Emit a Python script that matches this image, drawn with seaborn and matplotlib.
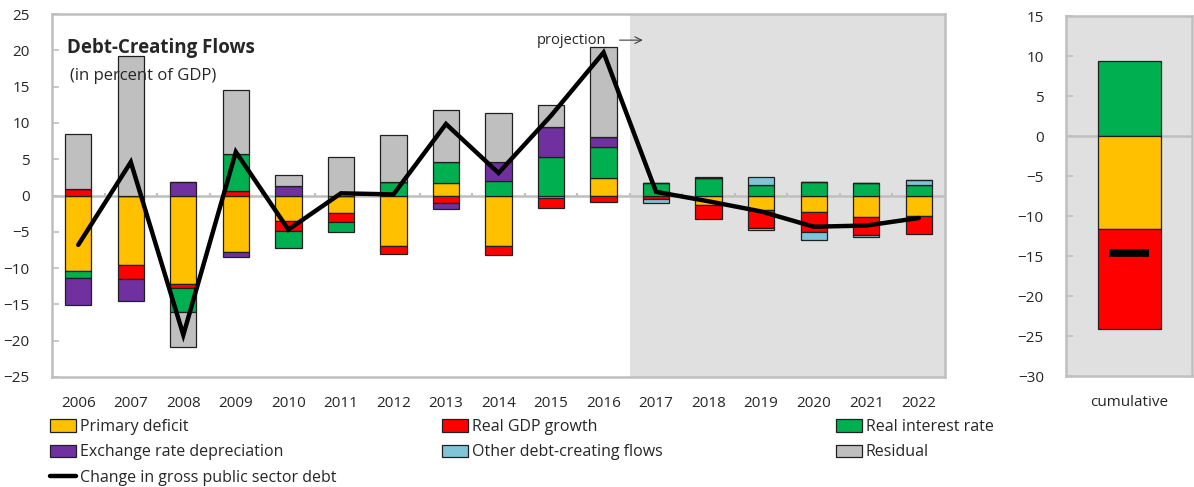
"""
Debt-creating flows, stacked bars + change in gross public sector debt
"""

import numpy as np
import pandas as pd
import matplotlib
matplotlib.use('Agg')
import matplotlib.pyplot as plt
import seaborn as sns
from matplotlib.patches import Patch
from matplotlib.lines import Line2D

sns.set_theme(style='white')
plt.rcParams['font.family'] = ['Open Sans', 'DejaVu Sans']

# data (percent of GDP)
years = ['2006', '2007', '2008', '2009', '2010', '2011', '2012', '2013', '2014',
         '2015', '2016', '2017', '2018', '2019', '2020', '2021', '2022']
primary_deficit = [-10.45, -9.6, -12.2, -7.8, -3.55, -2.4, -7.0, 1.66, -7.0,
                   -0.37, 2.44, -0.1, -1.33, -2.0, -2.25, -2.9, -2.76]
real_gdp_growth = [0.9, -1.9, -0.55, 0.6, -1.38, -1.3, -1.05, -1.0, -1.24,
                   -1.38, -0.87, -0.4, -1.87, -2.5, -2.75, -2.5, -2.49]
real_interest = [-0.95, 0.0, -3.35, 5.15, -2.27, -1.3, 1.85, 2.9, 1.98,
                 5.35, 4.26, 1.7, 2.4, 1.5, 1.9, 1.66, 1.48]
exchange_rate = [-3.75, -3.1, 1.8, -0.7, 1.33, 0.0, 0.0, -0.9, 2.67,
                 4.15, 1.3, 0.0, 0.0, 0.0, 0.0, 0.0, 0.0]
other_flows = [0.0, 0.0, 0.0, 0.0, 0.0, 0.0, 0.0, 0.0, 0.0,
               0.0, 0.0, -0.6, 0.0, 1.08, -1.1, -0.35, 0.59]
residual = [7.6, 19.15, -4.7, 8.85, 1.47, 5.35, 6.45, 7.18, 6.75,
            3.0, 12.5, 0.0, 0.1, -0.25, 0.0, 0.0, 0.0]
debt_change = [-6.8, 4.6, -19.2, 6.0, -4.7, 0.3, 0.15, 9.85, 3.1,
               11.0, 19.7, 0.5, -0.8, -2.2, -4.3, -4.14, -3.1]
first_projection = '2017'

cum_labels = ['Real interest rate', 'Primary deficit', 'Real GDP growth']
cum_values = [9.4, -11.6, -12.5]
cum_debt_change = -14.6

series = [
    ('Primary deficit', primary_deficit, '#FFC000'),
    ('Real GDP growth', real_gdp_growth, '#FF0000'),
    ('Real interest rate', real_interest, '#00B050'),
    ('Exchange rate depreciation', exchange_rate, '#7030A0'),
    ('Other debt-creating flows', other_flows, '#7FC4D9'),
    ('Residual', residual, '#BFBFBF'),
]
colors = {name: c for name, _, c in series}

frame_col = '#BFBFBF'
shade_col = '#E0E0E0'
fs = 11

fig = plt.figure(figsize=(11.94, 4.87), dpi=100)
ax = fig.add_axes([52 / 1194, 110 / 487, 893 / 1194, 363 / 487])
ax2 = fig.add_axes([1066 / 1194, 111 / 487, 126 / 1194, 360 / 487])

# ---- left panel: stacked bars
pos_base = np.zeros(len(years))
neg_base = np.zeros(len(years))
for name, vals, col in series:
    v = np.array(vals)
    bottom = np.where(v >= 0, pos_base, neg_base)
    df = pd.DataFrame({'year': years, 'value': v})
    sns.barplot(data=df, x='year', y='value', order=years, color=col,
                saturation=1, width=0.5, bottom=bottom, edgecolor='#202020',
                linewidth=0.9, ax=ax, zorder=3)
    pos_base = pos_base + np.where(v >= 0, v, 0)
    neg_base = neg_base + np.where(v < 0, v, 0)

xpos = np.arange(len(years))
sns.lineplot(x=xpos, y=debt_change, color='black', linewidth=3.2, ax=ax,
             zorder=5, solid_joinstyle='miter')

ax.set_xlim(-0.5, len(years) - 0.5)
ax.set_ylim(-25, 25)
ax.set_yticks(np.arange(-25, 26, 5))
ax.axvspan(years.index(first_projection) - 0.5, len(years) - 0.5,
           color=shade_col, zorder=0, lw=0)
ax.axhline(0, color=frame_col, lw=1.8, zorder=2)
# small category ticks on the zero line
ax.vlines(np.arange(0.5, len(years) - 1, 1), 0, 0.35, color=frame_col,
          lw=1.5, zorder=2)

ax.set_xlabel('')
ax.set_ylabel('')
ax.tick_params(axis='x', length=0, pad=14, labelsize=fs)
ax.tick_params(axis='y', direction='in', length=5, color=frame_col, width=1.2,
               pad=16, labelsize=fs, left=True)
for s in ax.spines.values():
    s.set_color(frame_col)
    s.set_linewidth(1.8)

ax.text(0.017, 0.905, 'Debt-Creating Flows', transform=ax.transAxes,
        fontsize=13.5, fontweight='bold', va='center')
ax.text(0.020, 0.828, '(in percent of GDP)', transform=ax.transAxes,
        fontsize=12, va='center')
ax.annotate('', xy=(10.8, 21.4), xytext=(10.25, 21.4),
            arrowprops=dict(arrowstyle='->', color='#404040', lw=0.8))
ax.text(10.05, 21.4, 'projection', fontsize=10.5, ha='right', va='center')

# ---- right panel: cumulative
base_p, base_n = 0.0, 0.0
for lab, val in zip(cum_labels, cum_values):
    b = base_p if val >= 0 else base_n
    sns.barplot(x=['cumulative'], y=[val], color=colors[lab], saturation=1,
                width=0.5, bottom=[b], edgecolor='#202020', linewidth=0.9,
                ax=ax2, zorder=3)
    if val >= 0:
        base_p += val
    else:
        base_n += val
sns.scatterplot(x=[0], y=[cum_debt_change], marker='_', s=800, linewidth=5.5,
                color='black', ax=ax2, zorder=5)
ax2.set_facecolor(shade_col)
ax2.set_xlim(-0.5, 0.5)
ax2.set_ylim(-30, 15)
ax2.set_yticks(np.arange(-30, 16, 5))
ax2.axhline(0, color=frame_col, lw=1.8, zorder=2)
ax2.set_xlabel('')
ax2.set_ylabel('')
ax2.tick_params(axis='x', length=0, pad=14, labelsize=fs)
ax2.tick_params(axis='y', direction='in', length=5, color=frame_col, width=1.2,
                pad=16, labelsize=fs, left=True)
for s in ax2.spines.values():
    s.set_color(frame_col)
    s.set_linewidth(1.8)

# ---- legend, three columns
def patch(name):
    return Patch(facecolor=colors[name], edgecolor='#202020', linewidth=0.9)

cols = [
    [(patch('Primary deficit'), 'Primary deficit'),
     (patch('Exchange rate depreciation'), 'Exchange rate depreciation'),
     (Line2D([], [], color='black', lw=3.2), 'Change in gross public sector debt')],
    [(patch('Real GDP growth'), 'Real GDP growth'),
     (patch('Other debt-creating flows'), 'Other debt-creating flows')],
    [(patch('Real interest rate'), 'Real interest rate'),
     (patch('Residual'), 'Residual')],
]
for i, (cx, entries) in enumerate(zip([50, 442, 836], cols)):
    leg = fig.legend([e[0] for e in entries], [e[1] for e in entries],
                     loc='upper left', bbox_to_anchor=(cx / 1194, 1 - 419 / 487),
                     frameon=False, fontsize=11.5, borderpad=0, borderaxespad=0,
                     handlelength=1.6, handleheight=0.8, handletextpad=0.25,
                     labelspacing=0.58)

plt.savefig('out.png', dpi=100)
